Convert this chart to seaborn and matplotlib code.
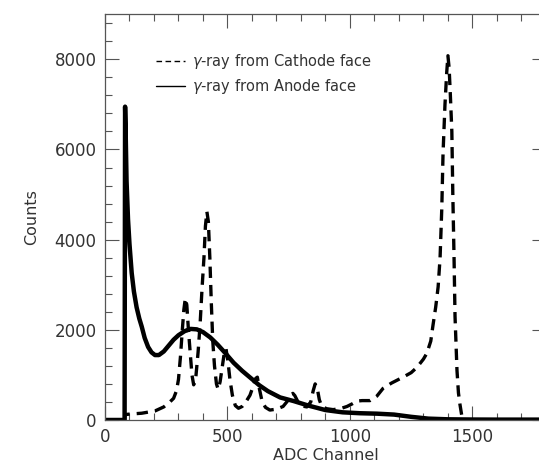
import numpy as np
import pandas as pd
import matplotlib
matplotlib.use("Agg")
import matplotlib.pyplot as plt
import seaborn as sns
from matplotlib.lines import Line2D
from matplotlib.ticker import MultipleLocator


# ------------------------------
# DATA
# ------------------------------
anode_channel = [0, 80, 82, 84, 88, 94, 100, 109, 118, 129, 140, 150, 162, 176, 190,
                 204, 220, 240, 260, 280, 300, 325, 350, 375, 400, 430, 460, 490, 525,
                 560, 595, 630, 665, 715, 770, 830, 900, 970, 1040, 1110, 1180, 1250,
                 1320, 1400, 1500, 1600, 1700, 1800]
anode_counts = [0, 0, 6950, 6500, 5300, 4450, 3900, 3260, 2850, 2500, 2250, 2070, 1820,
                1620, 1500, 1440, 1440, 1520, 1650, 1780, 1880, 1970, 2020, 2010, 1950,
                1830, 1670, 1490, 1270, 1090, 930, 770, 640, 500, 420, 320, 220, 170,
                150, 140, 120, 70, 30, 15, 10, 8, 8, 8]

cathode_channel = [0, 80, 82, 100, 150, 204, 240, 265, 280, 292, 300, 308, 315, 322, 328,
                   334, 340, 347, 355, 362, 370, 380, 388, 396, 404, 410, 416, 422, 428,
                   434, 440, 447, 455, 462, 470, 478, 486, 494, 502, 510, 520, 532, 545,
                   560, 575, 592, 605, 615, 622, 630, 641, 655, 673, 700, 727, 745, 760,
                   767, 775, 788, 805, 824, 840, 850, 858, 866, 875, 885, 905, 931, 960,
                   988, 1010, 1029, 1050, 1082, 1110, 1135, 1170, 1217, 1250, 1274, 1300,
                   1314, 1330, 1339, 1350, 1360, 1368, 1375, 1380, 1388, 1395, 1400, 1405,
                   1410, 1416, 1420, 1425, 1429, 1437, 1443, 1449, 1457, 1465, 1500, 1600,
                   1700, 1800]
cathode_counts = [0, 0, 120, 130, 150, 200, 290, 400, 480, 650, 900, 1400, 1950, 2450,
                  2700, 2550, 2050, 1550, 1000, 780, 900, 1500, 2100, 2900, 3600, 4300,
                  4620, 4400, 3600, 2600, 1750, 1200, 800, 680, 850, 1150, 1450, 1580,
                  1300, 900, 550, 320, 260, 300, 400, 550, 750, 920, 950, 700, 420, 280,
                  220, 240, 300, 420, 560, 590, 540, 400, 310, 290, 400, 650, 800, 720,
                  450, 300, 250, 230, 250, 300, 360, 420, 430, 430, 530, 700, 820, 950,
                  1050, 1170, 1350, 1480, 1750, 2100, 2500, 2950, 3600, 4700, 5900, 7000,
                  7700, 8080, 7800, 7200, 6400, 5000, 3600, 2300, 1100, 600, 350, 80, 0,
                  0, 0, 0, 0]

labels = [r"$\gamma$-ray from Cathode face", r"$\gamma$-ray from Anode face"]


# ------------------------------
# FIGURE
# ------------------------------
sns.set_style("ticks")
plt.rcParams["font.family"] = ["DejaVu Sans"]
text_col = "#333333"

fig = plt.figure(figsize=(5.39, 4.68), dpi=100)
ax = fig.add_axes([0.1948, 0.1026, 0.818, 0.867])

sns.lineplot(x=cathode_channel, y=cathode_counts, ax=ax, color="black",
             lw=2.4, sort=False)
ax.lines[-1].set_dashes([3.4, 2.1])
sns.lineplot(x=anode_channel, y=anode_counts, ax=ax, color="black",
             lw=3.2, sort=False)

ax.set_xlim(0, 1800)
ax.set_ylim(0, 9000)
ax.xaxis.set_major_locator(MultipleLocator(500))
ax.xaxis.set_minor_locator(MultipleLocator(100))
ax.yaxis.set_major_locator(MultipleLocator(2000))
ax.yaxis.set_minor_locator(MultipleLocator(400))
ax.tick_params(which="both", direction="in", top=True, right=True,
               color="#555555", width=0.8, labelsize=12, labelcolor=text_col, pad=6)
ax.tick_params(which="major", length=10)
ax.tick_params(which="minor", length=5)
for sp in ax.spines.values():
    sp.set_color("#555555")
    sp.set_linewidth(0.9)

ax.set_xlabel("ADC Channel", fontsize=11.5, color=text_col, labelpad=1)
ax.set_ylabel("Counts", fontsize=11.5, color=text_col, labelpad=11)

handles = [Line2D([], [], color="black", lw=1, dashes=[4, 2.5]),
           Line2D([], [], color="black", lw=1)]
ax.legend(handles, labels, loc="upper left", bbox_to_anchor=(0.085, 0.94),
          frameon=False, fontsize=10.5, handlelength=2.0, handletextpad=0.5,
          labelspacing=0.45, labelcolor=text_col)

fig.savefig("out.png", dpi=100)
